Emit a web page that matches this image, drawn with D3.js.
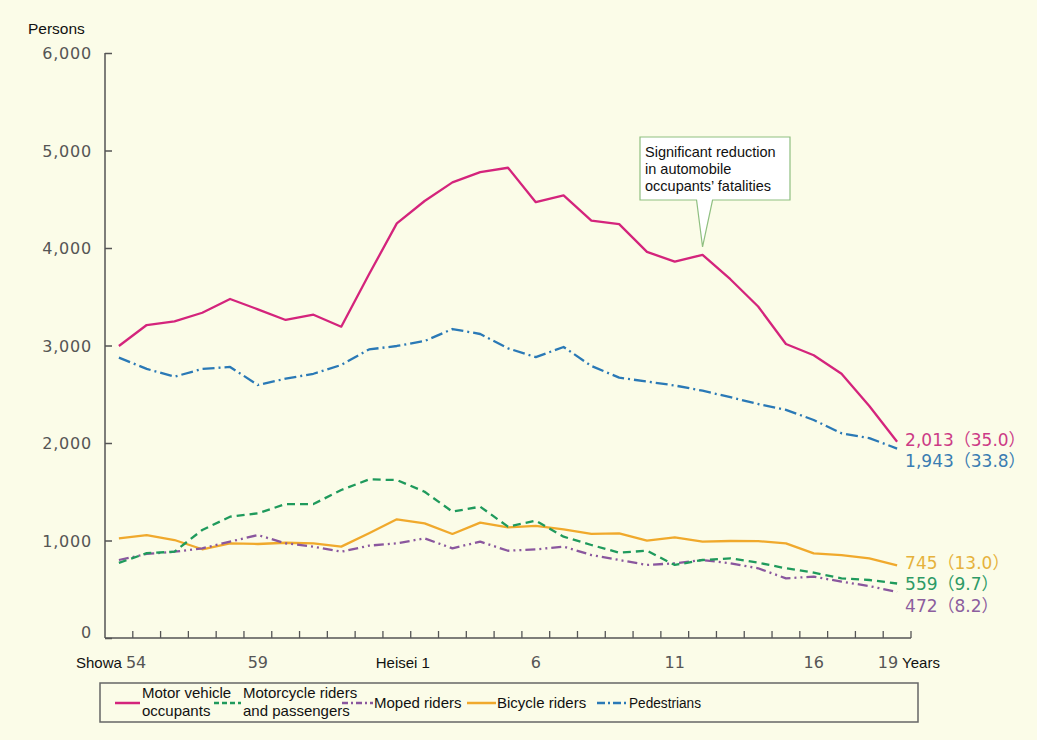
<!DOCTYPE html>
<html><head><meta charset="utf-8">
<script src="https://cdn.jsdelivr.net/npm/d3@7"></script>
<style>body{margin:0;background:#fbfce8;} svg{display:block;}</style>
</head><body>
<svg id="c" width="1037" height="740"></svg>
<script>
// ---- DATA ----
const years = ["S54","S55","S56","S57","S58","S59","S60","S61","S62","S63",
  "H1","H2","H3","H4","H5","H6","H7","H8","H9","H10","H11","H12","H13","H14","H15","H16","H17","H18","H19"];
const motorVehicle = [2995,3210,3248,3336,3477,3371,3262,3316,3193,3730,4253,4482,4673,4779,4823,4470,4540,4280,4245,3960,3860,3930,3680,3400,3015,2900,2710,2380,2013];
const motorcycle = [770,870,885,1108,1244,1279,1374,1374,1518,1627,1620,1500,1296,1347,1142,1203,1039,954,875,895,749,800,817,772,715,670,612,595,559];
const moped = [800,862,885,920,988,1056,971,937,885,947,971,1022,920,988,895,909,937,851,800,749,766,800,766,715,612,629,578,533,472];
const bicycle = [1022,1056,1005,910,971,964,977,971,937,1074,1217,1176,1067,1183,1135,1149,1115,1067,1074,998,1033,988,995,994,971,868,851,817,745];
const pedestrians = [2875,2760,2680,2760,2780,2595,2660,2710,2800,2960,2995,3046,3169,3118,2971,2880,2985,2790,2670,2630,2590,2536,2470,2400,2340,2236,2100,2050,1943];
const yTicks = [0,1000,2000,3000,4000,5000,6000];
const xTickLabels = [{i:0,t:"54"},{i:5,t:"59"},{i:10,t:"Heisei 1"},{i:15,t:"6"},{i:20,t:"11"},{i:25,t:"16"},{i:28,t:"19"}];
const seriesNames = ["Motor vehicle\noccupants","Motorcycle riders\nand passengers","Moped riders","Bicycle riders","Pedestrians"];
const endLabels = ["2,013（35.0）","559（9.7）","472（8.2）","745（13.0）","1,943（33.8）"];
const annotationText = ["Significant reduction","in automobile","occupants’ fatalities"];

// ---- STYLE ----
const colors = ["#d4247c","#1f9a5c","#8a579e","#f0a92c","#2a79b6"];
const labelColors = ["#cc3b86","#2e9a66","#8c5e9e","#e6b23c","#3a7db2"];
const dashes = [null,"8,5","10,4,2,4,2,4","",  "12,4,2,4"];
const labelDy = [4,7,20,4,18];
const data = [motorVehicle, motorcycle, moped, bicycle, pedestrians];

const svg = d3.select("#c");
svg.append("rect").attr("width",1037).attr("height",740).attr("fill","#fbfce8");

const x = d3.scaleBand().domain(years).range([105,911]).paddingInner(0).paddingOuter(0);
const y = d3.scaleLinear().domain([0,6000]).range([638,53]);
const cx = (i) => x(years[i]) + x.bandwidth()/2;

// y axis
const yAxis = svg.append("g").attr("transform","translate(105,0)")
  .call(d3.axisRight(y).tickValues(yTicks).tickSize(7).tickFormat(""));
yAxis.select(".domain").attr("stroke","#555").attr("stroke-width",1.5).attr("d","M0,53V638");
yAxis.selectAll(".tick line").attr("stroke","#555").attr("stroke-width",1.5);
svg.append("g").selectAll("text").data(yTicks).join("text")
  .attr("x",92).attr("y",d=>y(d)+(d===0?0:6))
  .attr("text-anchor","end")
  .attr("font-family","DejaVu Sans").attr("font-size",16).attr("letter-spacing",0.8)
  .attr("fill","#555").text(d=>d3.format(",")(d));

// x axis
const xAxis = svg.append("g").attr("transform","translate(0,638)")
  .call(d3.axisTop(x).tickSize(0).tickFormat(""));
xAxis.select(".domain").attr("stroke","#555").attr("stroke-width",1.5).attr("d","M105,0H911");
const bounds = years.slice(1).map(d=>x(d)).concat([911]);
svg.append("g").selectAll("line").data(bounds).join("line")
  .attr("x1",d=>d).attr("x2",d=>d).attr("y1",638).attr("y2",631)
  .attr("stroke","#555").attr("stroke-width",1.3);

// x labels
const xl = svg.append("g");
xTickLabels.forEach(o=>{
  const isText = o.t.startsWith("Heisei");
  let anchor="middle", xx=cx(o.i);
  if(o.i===0){anchor="start"; xx=cx(o.i)+7;}
  if(o.i===years.length-1){anchor="end"; xx=cx(o.i)+1;}
  if(isText){xx+=6;}
  xl.append("text").attr("x",xx).attr("y",668).attr("text-anchor",anchor)
    .attr("font-family",isText?"Liberation Sans":"DejaVu Sans")
    .attr("font-size",isText?15:16).attr("fill",isText?"#111":"#555").text(o.t);
});
xl.append("text").attr("x",cx(0)+3).attr("y",668).attr("text-anchor","end")
  .attr("font-family","Liberation Sans").attr("font-size",15).attr("fill","#111").text("Showa");
xl.append("text").attr("x",cx(years.length-1)+5).attr("y",668)
  .attr("font-family","Liberation Sans").attr("font-size",15).attr("fill","#111").text("Years");

svg.append("text").attr("x",28).attr("y",34).attr("font-family","Liberation Sans")
  .attr("font-size",15.5).attr("fill","#111").text("Persons");

// lines
const line = d3.line().x((d,i)=>cx(i)).y(d=>y(d));
const drawOrder = [3,2,1,4,0];
drawOrder.forEach(k=>{
  svg.append("path").datum(data[k]).attr("d",line).attr("fill","none")
    .attr("stroke",colors[k]).attr("stroke-width",2.3)
    .attr("stroke-linejoin","round")
    .attr("stroke-dasharray",dashes[k]||null);
});

// end labels
data.forEach((arr,k)=>{
  const v = arr[arr.length-1];
  svg.append("text").attr("x",cx(arr.length-1)+8).attr("y",y(v)+labelDy[k])
    .attr("font-family","DejaVu Sans, Noto Sans CJK JP").attr("font-size",17)
    .attr("fill",labelColors[k]).text(endLabels[k]);
});

// annotation
const ai = 21;
const tipX = cx(ai), tipY = y(motorVehicle[ai]) - 8;
svg.append("path")
  .attr("d",`M640,137H790V200H${tipX+10}L${tipX},${tipY}L${tipX-6},200H640Z`)
  .attr("fill","#ffffff").attr("stroke","#8fbf80").attr("stroke-width",1.2);
annotationText.forEach((t,i)=>{
  svg.append("text").attr("x",645).attr("y",157+i*17).attr("font-family","Liberation Sans")
    .attr("font-size",14.5).attr("fill","#111").text(t);
});

// legend
svg.append("rect").attr("x",100).attr("y",683).attr("width",818).attr("height",39)
  .attr("fill","none").attr("stroke","#666").attr("stroke-width",1.5);
const legItems = [
  {k:0,x1:115,x2:140,tx:142},
  {k:1,x1:214,x2:241,tx:243},
  {k:2,x1:342,x2:373,tx:374},
  {k:3,x1:467,x2:496,tx:497},
  {k:4,x1:597,x2:628,tx:629}
];
legItems.forEach(o=>{
  const k=o.k;
  svg.append("line").attr("x1",o.x1).attr("x2",o.x2).attr("y1",703).attr("y2",703)
    .attr("stroke",colors[k]).attr("stroke-width",2.5)
    .attr("stroke-dasharray",k===1?"5,3":(k===2?"6,3,2,3":(k===4?"8,3,2,3":null)));
  const lines = seriesNames[k].split("\n");
  lines.forEach((t,j)=>{
    const yy = lines.length===1 ? 708 : 698 + j*18;
    const tx = svg.append("text").attr("x",o.tx).attr("y",yy).attr("font-family","Liberation Sans")
      .attr("font-size",k===4?14:15).attr("fill","#111").text(t);
    if(k===4) tx.attr("textLength",72).attr("lengthAdjust","spacingAndGlyphs");
  });
});
</script>
</body></html>
